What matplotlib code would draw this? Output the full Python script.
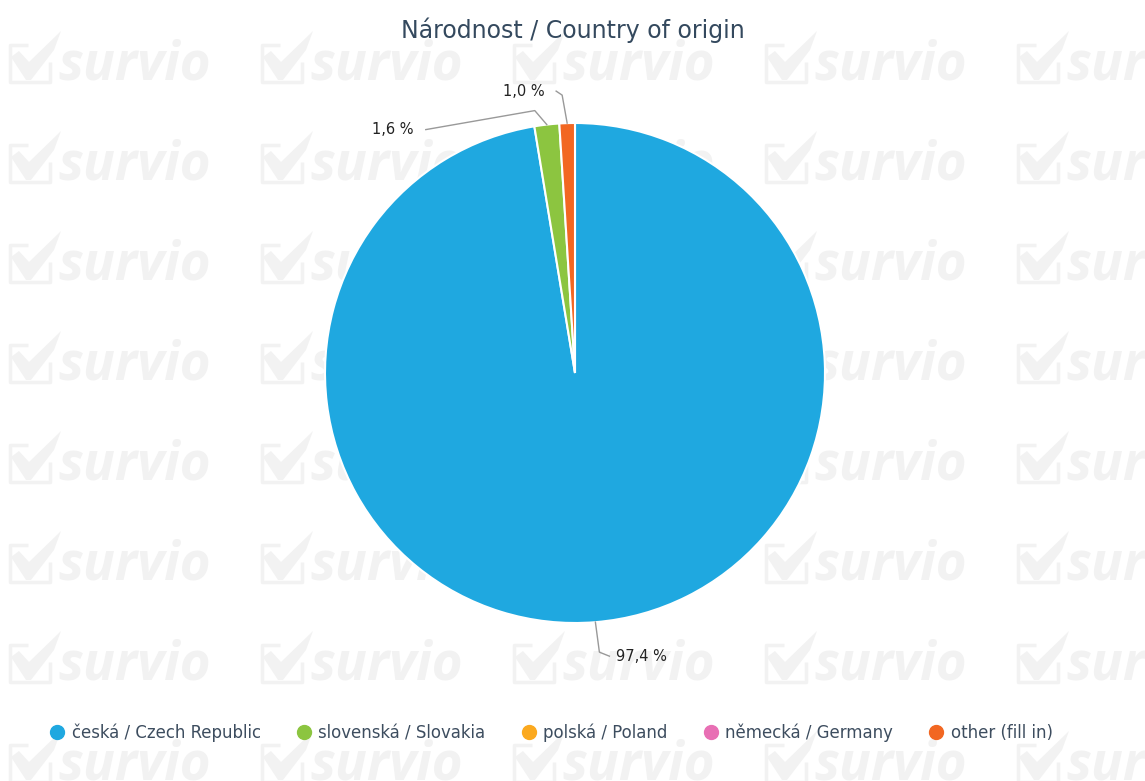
import numpy as np
import matplotlib
from matplotlib import pyplot as plt
from matplotlib.lines import Line2D
from matplotlib.patches import Polygon

title = "Národnost / Country of origin"
categories = ["česká / Czech Republic", "slovenská / Slovakia", "polská / Poland",
              "německá / Germany", "other (fill in)"]
shares = [97.4, 1.6, 0.0, 0.0, 1.0]
colors = ["#1fa8e0", "#8cc540", "#fba91f", "#e86fb4", "#f26722"]

W, H = 1145, 781
CX, CY, R = 575, H - 373, 250

WM = "#f2f2f2"
check = np.array([(11, 57), (19, 51), (29, 62), (61, 31), (54, 50), (31, 80), (26, 80)])


def draw_watermark(ax):
  for row in range(8):
    for col in range(5):
      x0 = col * 252
      y0 = row * 100
      # box outline
      ax.plot([x0 + 28, x0 + 10, x0 + 10, x0 + 50, x0 + 50],
              [H - y0 - 45, H - y0 - 45, H - y0 - 82, H - y0 - 82, H - y0 - 62],
              color=WM, lw=2.5, zorder=0, solid_capstyle="butt")
      pts = np.column_stack([x0 + check[:, 0], H - y0 - check[:, 1]])
      ax.add_patch(Polygon(pts, closed=True, color=WM, zorder=0, lw=0))
      ax.text(x0 + 58, H - y0 - 66, "survio", fontsize=38, color=WM, va="center", ha="left",
              fontweight="bold", style="italic", zorder=0, family="Open Sans")


def main():
  fig = plt.figure(figsize=(W / 100, H / 100), dpi=100)
  ax = fig.add_axes([0, 0, 1, 1])

  draw_watermark(ax)

  vals = [v for v in shares if v > 0]
  cols = [c for v, c in zip(shares, colors) if v > 0]
  wedges, _ = ax.pie(vals, colors=cols, startangle=90, counterclock=False,
                     center=(CX, CY), radius=R, frame=True,
                     wedgeprops=dict(edgecolor="white", linewidth=1.5))
  ax.set_xlim(0, W)
  ax.set_ylim(0, H)
  ax.set_aspect("equal")
  ax.axis("off")

  # (elbow, line end) relative to the wedge edge point, label side
  offsets = [((4, -30), (14, -34), "left"),
             ((-12, 14), (-121, -5), "right"),
             ((-5, 28), (-11, 32), "right")]
  for w, v, (elb, lab, ha) in zip(wedges, vals, offsets):
    ang = np.deg2rad((w.theta1 + w.theta2) / 2)
    ex, ey = CX + R * np.cos(ang), CY + R * np.sin(ang)
    x1, y1 = ex + elb[0], ey + elb[1]
    x2, y2 = ex + lab[0], ey + lab[1]
    ax.plot([ex, x1, x2], [ey, y1, y2], color="#999999", lw=1, zorder=1)
    txt = ("%.1f %%" % v).replace(".", ",")
    ax.text(x2 + (7 if ha == "left" else -12), y2, txt, fontsize=10.5, color="#222222",
            ha=ha, va="center", family="DejaVu Sans")

  fig.text(0.5, 1 - 30 / H, title, ha="center", va="center", fontsize=17,
           color="#34495e", family="DejaVu Sans")

  handles = [Line2D([], [], marker="o", ls="", color=c, markersize=10) for c in colors]
  leg = fig.legend(handles, categories, loc="center", bbox_to_anchor=(0.48, 1 - 733 / H),
                   ncol=5, frameon=False, fontsize=13.2, handletextpad=0.2,
                   columnspacing=1.75, handlelength=1.2)
  for t in leg.get_texts():
    t.set_color("#3d4d5f")
    t.set_family("DejaVu Sans")
    t.set_stretch("condensed")

  fig.savefig("out.png", dpi=100)


if __name__ == '__main__':
  main()
